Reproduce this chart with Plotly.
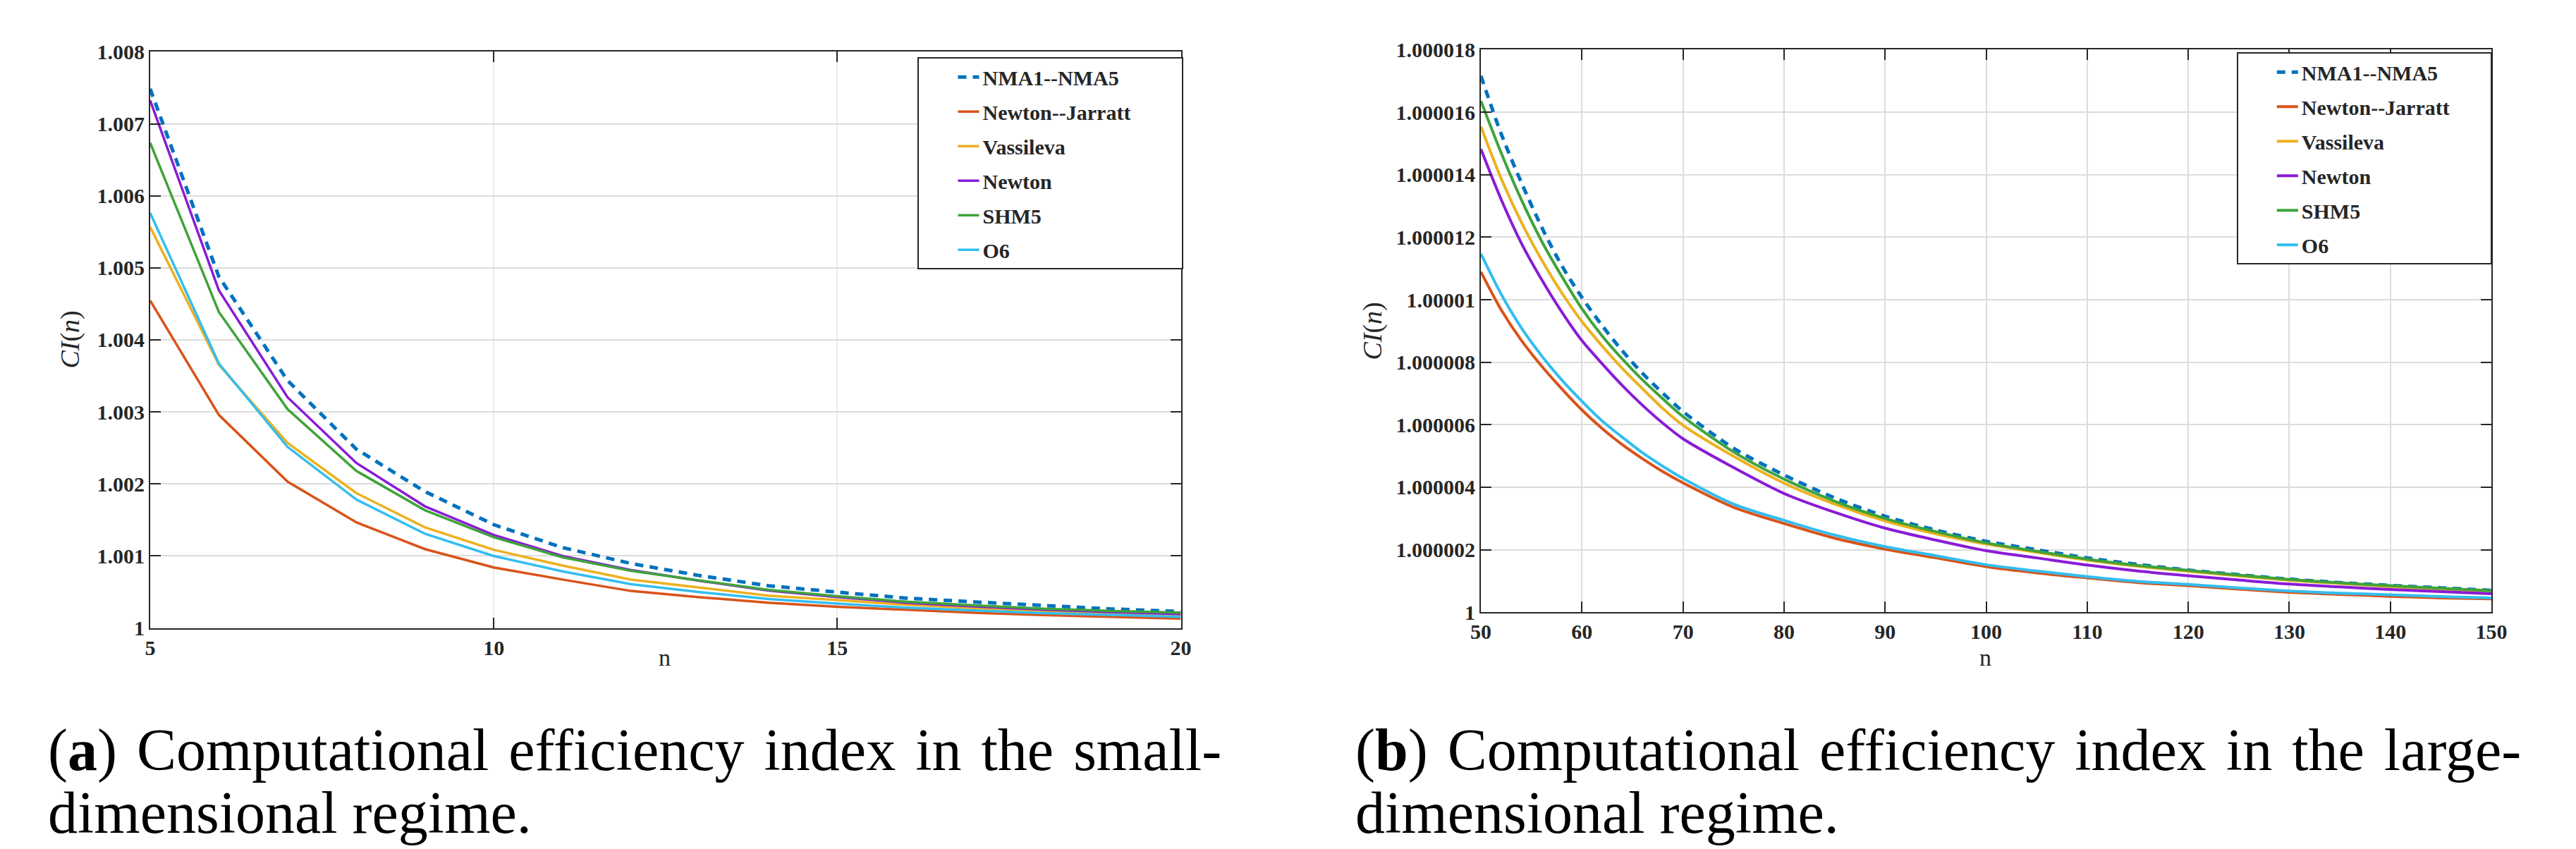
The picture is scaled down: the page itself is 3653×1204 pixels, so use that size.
import plotly.graph_objects as go

W, H = 3653, 1204

# ---------------- data ----------------
series_names = ["NMA1--NMA5", "Newton--Jarratt", "Vassileva", "Newton", "SHM5", "O6"]
series_colors = ["#0072BD", "#D95319", "#EDB120", "#8A1BD6", "#3FA33A", "#33BDF0"]

# (a) small-dimensional regime
n_small = [5, 6, 7, 8, 9, 10, 11, 12, 13, 14, 15, 16, 17, 18, 19, 20]
ci_small_nma = [1.007486, 1.004878, 1.003435, 1.002483, 1.001895, 1.001435, 1.001117, 1.000895,
                1.000727, 1.000587, 1.000498, 1.000415, 1.000362, 1.000308, 1.000264, 1.000229]
ci_small_nj = [1.004546, 1.002959, 1.002032, 1.001467, 1.001095, 1.000841, 1.000673, 1.000514,
               1.000428, 1.000350, 1.000295, 1.000250, 1.000212, 1.000180, 1.000153, 1.000130]
ci_small_vas = [1.005568, 1.003655, 1.002568, 1.001873, 1.001397, 1.001086, 1.000867, 1.000672,
                1.000562, 1.000450, 1.000387, 1.000323, 1.000276, 1.000237, 1.000203, 1.000181]
ci_small_newton = [1.007324, 1.004688, 1.003203, 1.002292, 1.001689, 1.001292, 1.001000, 1.000805,
                   1.000655, 1.000520, 1.000430, 1.000352, 1.000300, 1.000255, 1.000222, 1.000195]
ci_small_shm5 = [1.006736, 1.004387, 1.003038, 1.002181, 1.001635, 1.001260, 1.000983, 1.000795,
                 1.000660, 1.000530, 1.000441, 1.000365, 1.000314, 1.000269, 1.000237, 1.000213]
ci_small_o6 = [1.005762, 1.003672, 1.002514, 1.001784, 1.001308, 1.001000, 1.000787, 1.000609,
               1.000498, 1.000403, 1.000339, 1.000282, 1.000244, 1.000206, 1.000181, 1.000156]

# (b) large-dimensional regime
n_large = [50, 52, 54, 56, 58, 60, 62, 64, 66, 68, 70, 75, 80, 85, 90, 95, 100, 105, 110, 115,
           120, 125, 130, 135, 140, 145, 150]
ci_large_nma = [1.00001716, 1.00001531, 1.00001375, 1.00001233, 1.00001109, 1.00001007, 1.00000917,
                1.00000836, 1.00000764, 1.00000701, 1.00000642, 1.00000525, 1.00000439, 1.00000366,
                1.00000307, 1.00000263, 1.00000227, 1.00000200, 1.00000174, 1.00000153, 1.00000135,
                1.00000120, 1.00000106, 1.00000095, 1.00000086, 1.00000078, 1.00000070]
ci_large_nj = [1.00001089, 1.00000968, 1.00000870, 1.00000788, 1.00000715, 1.00000647, 1.00000588,
               1.00000536, 1.00000491, 1.00000450, 1.00000414, 1.00000336, 1.00000284, 1.00000237,
               1.00000202, 1.00000174, 1.00000146, 1.00000126, 1.00000110, 1.00000095, 1.00000085,
               1.00000074, 1.00000064, 1.00000057, 1.00000051, 1.00000046, 1.00000043]
ci_large_vas = [1.00001554, 1.00001388, 1.00001248, 1.00001128, 1.00001022, 1.00000930, 1.00000852,
                1.00000780, 1.00000715, 1.00000652, 1.00000598, 1.00000499, 1.00000413, 1.00000346,
                1.00000292, 1.00000251, 1.00000218, 1.00000192, 1.00000167, 1.00000147, 1.00000131,
                1.00000116, 1.00000102, 1.00000092, 1.00000082, 1.00000074, 1.00000067]
ci_large_newton = [1.00001482, 1.00001321, 1.00001181, 1.00001065, 1.00000961, 1.00000869, 1.00000795,
                   1.00000725, 1.00000662, 1.00000605, 1.00000555, 1.00000463, 1.00000380, 1.00000320,
                   1.00000269, 1.00000231, 1.00000197, 1.00000174, 1.00000151, 1.00000132, 1.00000117,
                   1.00000103, 1.00000090, 1.00000081, 1.00000073, 1.00000066, 1.00000059]
ci_large_shm5 = [1.00001636, 1.00001470, 1.00001320, 1.00001188, 1.00001075, 1.00000971, 1.00000884,
                 1.00000810, 1.00000743, 1.00000683, 1.00000626, 1.00000513, 1.00000426, 1.00000355,
                 1.00000300, 1.00000258, 1.00000222, 1.00000195, 1.00000170, 1.00000150, 1.00000134,
                 1.00000119, 1.00000105, 1.00000094, 1.00000085, 1.00000077, 1.00000069]
ci_large_o6 = [1.00001147, 1.00001018, 1.00000910, 1.00000821, 1.00000743, 1.00000675, 1.00000612,
               1.00000560, 1.00000510, 1.00000467, 1.00000428, 1.00000346, 1.00000294, 1.00000247,
               1.00000210, 1.00000181, 1.00000152, 1.00000132, 1.00000114, 1.00000099, 1.00000089,
               1.00000078, 1.00000068, 1.00000061, 1.00000056, 1.00000050, 1.00000046]

small_ticks_x = [5, 10, 15, 20]
small_ticks_y = [1, 1.001, 1.002, 1.003, 1.004, 1.005, 1.006, 1.007, 1.008]
small_ticks_y_text = ["1", "1.001", "1.002", "1.003", "1.004", "1.005", "1.006", "1.007", "1.008"]
large_ticks_x = [50, 60, 70, 80, 90, 100, 110, 120, 130, 140, 150]
large_ticks_y = [1, 1.000002, 1.000004, 1.000006, 1.000008, 1.00001, 1.000012, 1.000014, 1.000016, 1.000018]
large_ticks_y_text = ["1", "1.000002", "1.000004", "1.000006", "1.000008", "1.00001",
                      "1.000012", "1.000014", "1.000016", "1.000018"]

caption_a = ["(<b>a</b>) Computational efficiency index in the small-", "dimensional regime."]
caption_b = ["(<b>b</b>) Computational efficiency index in the large-", "dimensional regime."]

# ---------------- figure ----------------
def px(x):
    return x / W

def py(y):
    return 1 - y / H

INK = "#262626"
SERIF = "Liberation Serif"
PAD = "\u00a0" * 9  # widens the legend box to the reference width

fig = go.Figure()

small_sets = [ci_small_nma, ci_small_nj, ci_small_vas, ci_small_newton, ci_small_shm5, ci_small_o6]
large_sets = [ci_large_nma, ci_large_nj, ci_large_vas, ci_large_newton, ci_large_shm5, ci_large_o6]

for i, (name, col, ys) in enumerate(zip(series_names, series_colors, small_sets)):
    fig.add_trace(go.Scatter(
        x=n_small, y=ys, name=name + (PAD if i == 1 else ""), mode="lines",
        line=dict(color=col, width=5 if i == 0 else 3.5, dash="12px,9px" if i == 0 else "solid"),
        xaxis="x", yaxis="y", legend="legend", legendgroup="a%d" % i,
    ))

for i, (name, col, ys) in enumerate(zip(series_names, series_colors, large_sets)):
    fig.add_trace(go.Scatter(
        x=n_large, y=ys, name=name + (PAD[:7] if i == 1 else ""), mode="lines",
        line=dict(color=col, width=5 if i == 0 else 4, dash="12px,9px" if i == 0 else "solid",
                  shape="spline", smoothing=0.8),
        xaxis="x2", yaxis="y2", legend="legend2", legendgroup="b%d" % i,
    ))

axis_common = dict(
    showline=True, linecolor=INK, linewidth=2, mirror="ticks",
    ticks="inside", ticklen=15, tickwidth=1.5, tickcolor=INK,
    showgrid=True, gridcolor="#dcdcdc", gridwidth=1.5, zeroline=False,
    tickfont=dict(family=SERIF, size=30, color=INK, weight="bold"),
)

legend_common = dict(
    bgcolor="white", bordercolor=INK, borderwidth=2,
    font=dict(family=SERIF, size=30, color=INK, weight="bold"),
    xanchor="left", yanchor="top", tracegroupgap=7, indentation=50,
)

fig.update_layout(
    width=W, height=H, margin=dict(l=0, r=0, t=0, b=0),
    paper_bgcolor="white", plot_bgcolor="white", showlegend=True,
    xaxis=dict(axis_common, domain=[px(200), px(1677)], range=[5, 20], tickvals=small_ticks_x,
               anchor="y", gridcolor="#ebebeb"),
    yaxis=dict(axis_common, domain=[py(899), py(58)], range=[1, 1.008], tickvals=small_ticks_y,
               ticktext=small_ticks_y_text, anchor="x"),
    xaxis2=dict(axis_common, domain=[px(2107), px(3555)], range=[50, 150], tickvals=large_ticks_x,
                anchor="y2"),
    yaxis2=dict(axis_common, domain=[py(876), py(55)], range=[1, 1.000018], tickvals=large_ticks_y,
                ticktext=large_ticks_y_text, anchor="x2"),
    legend=dict(legend_common, x=px(1300), y=py(66)),
    legend2=dict(legend_common, x=px(3190), y=py(59)),
)

ann = []
# axis titles
for (x, y) in [(937, 942), (2830, 942)]:
    ann.append(dict(text="n", x=px(x), y=py(y), xref="paper", yref="paper", showarrow=False,
                    xanchor="center", yanchor="middle",
                    font=dict(family=SERIF, size=34, color=INK)))
for (x, y) in [(85, 478), (1952, 466)]:
    ann.append(dict(text="<i>CI</i>(<i>n</i>)", x=px(x), y=py(y), xref="paper", yref="paper",
                    showarrow=False, textangle=-90, xanchor="center", yanchor="middle",
                    font=dict(family=SERIF, size=38, color=INK)))

# captions (first line justified with hair spaces)
for cap, x0 in [(caption_a, 52), (caption_b, 1925)]:
    ann.append(dict(text=cap[0].replace(" ", " \u200a"), x=px(x0), y=py(1077), xref="paper", yref="paper",
                    showarrow=False, xanchor="left", yanchor="middle",
                    font=dict(family=SERIF, size=84, color="black")))
    ann.append(dict(text=cap[1], x=px(x0), y=py(1168), xref="paper", yref="paper",
                    showarrow=False, xanchor="left", yanchor="middle",
                    font=dict(family=SERIF, size=84, color="black")))

fig.update_layout(annotations=ann)
fig.write_html("out.html")
